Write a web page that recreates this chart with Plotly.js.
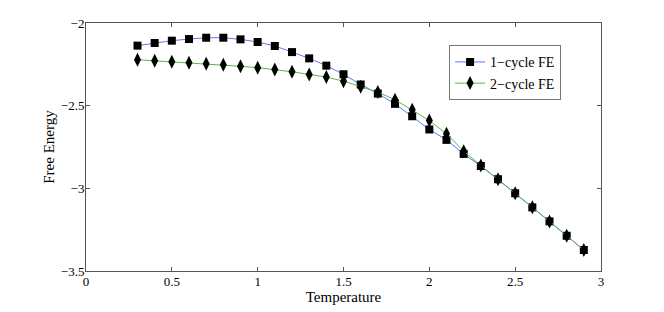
<!DOCTYPE html>
<html><head><meta charset="utf-8">
<script src="https://cdn.plot.ly/plotly-3.0.1.min.js"></script>
<style>html,body{margin:0;padding:0;background:#fff}#chart{width:664px;height:312px}</style>
</head><body><div id="chart"></div>
<script>
const temperature = [0.3,0.4,0.5,0.6,0.7,0.8,0.9,1.0,1.1,1.2,1.3,1.4,1.5,1.6,1.7,1.8,1.9,2.0,2.1,2.2,2.3,2.4,2.5,2.6,2.7,2.8,2.9];
const fe1 = [-2.137,-2.121,-2.107,-2.097,-2.089,-2.089,-2.099,-2.115,-2.139,-2.176,-2.214,-2.258,-2.310,-2.372,-2.427,-2.489,-2.564,-2.644,-2.707,-2.792,-2.865,-2.945,-3.030,-3.115,-3.200,-3.287,-3.373];
const fe2 = [-2.222,-2.228,-2.234,-2.240,-2.246,-2.252,-2.262,-2.270,-2.282,-2.295,-2.311,-2.327,-2.352,-2.386,-2.418,-2.464,-2.525,-2.590,-2.670,-2.775,-2.862,-2.945,-3.030,-3.115,-3.200,-3.287,-3.373];
const seriesNames = ['1\u2212cycle FE','2\u2212cycle FE'];
const xTicks = [0,0.5,1,1.5,2,2.5,3];
const yTicks = [-3.5,-3,-2.5,-2];

const traces = [
  {x: temperature, y: fe1, name: seriesNames[0], mode: 'lines+markers',
   line: {color: '#5a78ff', width: 1},
   marker: {symbol: 'square', size: 8, color: '#000', line: {color: '#000', width: 0}}},
  {x: temperature, y: fe2, name: seriesNames[1], mode: 'lines+markers',
   line: {color: '#5fb34a', width: 1},
   marker: {symbol: 'diamond-tall', size: 10, color: '#000', line: {color: '#000', width: 0}}}
];
const axisCommon = {
  showgrid: false, zeroline: false, showline: true, mirror: 'ticks',
  linecolor: '#555', linewidth: 1, ticks: 'inside', ticklen: 4, tickcolor: '#555',
  tickfont: {family: 'Liberation Serif', size: 13, color: '#000'}
};
const layout = {
  width: 664, height: 312,
  margin: {l: 86, r: 63, t: 23, b: 41},
  paper_bgcolor: '#fff', plot_bgcolor: '#fff',
  showlegend: true,
  legend: {x: 0.705, y: 0.91, xanchor: 'left', yanchor: 'top',
    bordercolor: '#777', borderwidth: 1, bgcolor: '#fff',
    font: {family: 'Liberation Serif', size: 14, color: '#000'},
    tracegroupgap: 2},
  xaxis: Object.assign({}, axisCommon, {range: [0, 3], tickvals: xTicks, ticktext: xTicks.map(String),
    ticklabelstandoff: -2,
    title: {text: 'Temperature', font: {family: 'Liberation Serif', size: 15, color: '#000'}, standoff: 2}}),
  yaxis: Object.assign({}, axisCommon, {range: [-3.5, -2], tickvals: yTicks,
    ticktext: yTicks.map(v => String(v).replace('-', '\u2212')),
    ticklabelstandoff: -2,
    title: {text: 'Free Energy', font: {family: 'Liberation Serif', size: 15, color: '#000'}, standoff: 2}})
};
Plotly.newPlot('chart', traces, layout, {displayModeBar: false, staticPlot: true});
</script></body></html>
